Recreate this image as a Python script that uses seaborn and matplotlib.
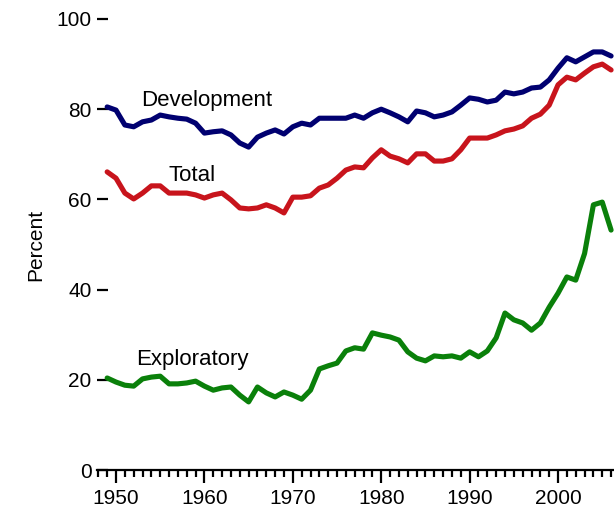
import matplotlib
matplotlib.use("Agg")
import matplotlib.pyplot as plt
from matplotlib.ticker import MultipleLocator
import seaborn as sns
import pandas as pd

years = list(range(1949, 2007))

development = [80.5, 79.8, 76.5, 76.1, 77.2, 77.6, 78.7, 78.3, 78.0, 77.8,
               76.9, 74.7, 75.0, 75.2, 74.3, 72.5, 71.6, 73.8, 74.7, 75.4,
               74.5, 76.1, 76.9, 76.5, 78.0, 78.0, 78.0, 78.0, 78.7, 78.0,
               79.2, 80.0, 79.2, 78.3, 77.2, 79.6, 79.2, 78.3, 78.7, 79.4,
               80.9, 82.5, 82.2, 81.6, 82.0, 83.8, 83.4, 83.8, 84.7, 84.9,
               86.5, 89.1, 91.4, 90.5, 91.6, 92.7, 92.7, 91.8]

total = [66.1, 64.7, 61.4, 60.1, 61.4, 63.0, 63.0, 61.4, 61.4, 61.4,
         61.0, 60.3, 61.0, 61.4, 59.9, 58.1, 57.9, 58.1, 58.8, 58.1,
         57.0, 60.5, 60.5, 60.8, 62.5, 63.2, 64.7, 66.5, 67.2, 67.0,
         69.2, 71.0, 69.6, 69.0, 68.1, 70.1, 70.1, 68.5, 68.5, 69.0,
         71.0, 73.6, 73.6, 73.6, 74.3, 75.2, 75.6, 76.3, 78.0, 78.9,
         80.9, 85.4, 87.1, 86.5, 88.0, 89.4, 90.0, 88.7]

exploratory = [20.4, 19.5, 18.8, 18.6, 20.2, 20.6, 20.8, 19.1, 19.1, 19.3,
               19.7, 18.6, 17.7, 18.2, 18.4, 16.6, 15.1, 18.4, 17.1, 16.2,
               17.3, 16.6, 15.7, 17.7, 22.4, 23.1, 23.7, 26.4, 27.1, 26.8,
               30.4, 29.9, 29.5, 28.8, 26.2, 24.8, 24.2, 25.3, 25.1, 25.3,
               24.8, 26.2, 25.1, 26.4, 29.3, 34.8, 33.3, 32.6, 31.0, 32.6,
               36.1, 39.2, 42.8, 42.1, 48.0, 58.8, 59.4, 53.2]

series_names = ["Development", "Total", "Exploratory"]
colors = ["#000070", "#c8141c", "#0a800a"]

df = pd.DataFrame({
    "year": years * 3,
    "percent": development + total + exploratory,
    "series": [s for s in series_names for _ in years],
})

sns.set_style("white")
plt.rcParams["font.family"] = ["Liberation Sans", "DejaVu Sans"]
plt.rcParams["text.color"] = "black"
plt.rcParams["axes.labelcolor"] = "black"
plt.rcParams["xtick.color"] = "black"
plt.rcParams["ytick.color"] = "black"

fig = plt.figure(figsize=(6.14, 5.09), dpi=100)
ax = fig.add_axes([97 / 614, 39 / 509, 517 / 614, 451 / 509])

sns.lineplot(data=df, x="year", y="percent", hue="series",
             palette=dict(zip(series_names, colors)), linewidth=3.7,
             legend=False, ax=ax)

ax.set_xlim(1947.85, 2006.33)
ax.set_ylim(0, 100)

for sp in ["left", "right", "top"]:
    ax.spines[sp].set_visible(False)
ax.spines["bottom"].set_linewidth(1.6)
ax.spines["bottom"].set_color("black")

ax.xaxis.set_major_locator(MultipleLocator(10))
ax.xaxis.set_minor_locator(MultipleLocator(1))
ax.yaxis.set_major_locator(MultipleLocator(20))
ax.tick_params(axis="x", which="major", direction="out", length=9, width=1.6,
               pad=5, labelsize=15, bottom=True, colors="black")
ax.tick_params(axis="x", which="minor", direction="out", length=5, width=1.6,
               bottom=True, colors="black")
ax.tick_params(axis="y", which="major", direction="in", length=8, width=1.6,
               pad=4, labelsize=15, left=True, colors="black")

ax.set_xlabel("")
ax.set_ylabel("Percent", fontsize=15, color="black")
ax.yaxis.set_label_coords(-0.10, 0.5)

ax.text(1952.8, 82.0, "Development", fontsize=16, va="center", ha="left", color="black")
ax.text(1955.9, 65.2, "Total", fontsize=16, va="center", ha="left", color="black")
ax.text(1952.3, 24.4, "Exploratory", fontsize=16, va="center", ha="left", color="black")

fig.savefig("out.png", dpi=100)
